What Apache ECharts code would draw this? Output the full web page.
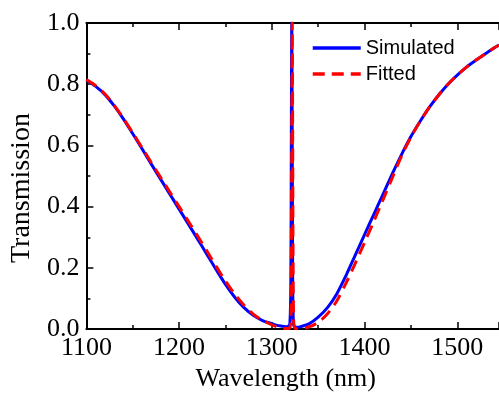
<!DOCTYPE html>
<html>
<head>
<meta charset="utf-8">
<script src="https://cdn.jsdelivr.net/npm/echarts@6/dist/echarts.min.js"></script>
<style>html,body{margin:0;padding:0;background:#fff}#c{width:499px;height:397px}</style>
</head>
<body>
<div id="c"></div>
<script>
// Wavelength samples (nm)
const wavelengths = [1100,1110,1120,1130,1140,1150,1160,1170,1180,1190,1200,1210,1220,1230,1240,1250,1260,1270,1280,1290,1300,1305,1310,1315,1318,1319.5,1320.5,1321,1321.5,1322,1322.5,1323,1323.5,1324,1325,1328,1330,1340,1350,1360,1370,1380,1390,1400,1410,1420,1430,1440,1450,1460,1470,1480,1490,1500,1510,1520,1530,1540,1545];
// Simulated transmission
const simulated = [0.813,0.793,0.766,0.729,0.686,0.638,0.589,0.539,0.490,0.441,0.392,0.343,0.294,0.244,0.194,0.146,0.104,0.070,0.045,0.028,0.018,0.013,0.010,0.008,0.010,0.020,0.150,0.600,1.000,0.600,0.150,0.040,0.015,0.010,0.007,0.006,0.007,0.017,0.039,0.070,0.115,0.175,0.242,0.309,0.375,0.441,0.508,0.571,0.629,0.679,0.725,0.765,0.800,0.830,0.856,0.878,0.899,0.919,0.928];
// Fitted transmission
const fitted = [0.815,0.795,0.768,0.731,0.688,0.641,0.593,0.544,0.496,0.448,0.400,0.352,0.304,0.255,0.205,0.157,0.114,0.078,0.049,0.028,0.014,0.008,0.004,0.002,0.002,0.005,0.030,0.150,0.600,1.000,0.600,0.150,0.030,0.010,0.003,0.001,0.001,0.007,0.022,0.050,0.092,0.150,0.215,0.283,0.352,0.423,0.495,0.566,0.627,0.679,0.725,0.765,0.800,0.830,0.856,0.878,0.899,0.919,0.928];
const xTicks = [1100,1200,1300,1400,1500];
const yTicks = [0.0,0.2,0.4,0.6,0.8,1.0];

const pair = (ys) => wavelengths.map((w, i) => [w, ys[i]]);
const serif = 'Liberation Serif';
const chart = echarts.init(document.getElementById('c'), null, {renderer: 'canvas'});
const axisCommon = {
  type: 'value', min: 1100, max: 1545, interval: 100,
  axisLine: {show: true, lineStyle: {color: '#000', width: 2}},
  axisTick: {show: true, inside: true, length: 7, lineStyle: {color: '#000', width: 1.5}},
  minorTick: {show: true, splitNumber: 2, length: 4, lineStyle: {color: '#000', width: 1.5}},
  splitLine: {show: false}
};
chart.setOption({
  animation: false,
  backgroundColor: '#fff',
  grid: {left: 82, top: 23, width: 419.6, height: 312, containLabel: false},
  legend: {
    orient: 'vertical', left: 306, top: 33, itemWidth: 48, itemHeight: 14, itemGap: 6,
    itemStyle: {opacity: 0},
    lineStyle: {width: 3.5},
    textStyle: {fontFamily: 'Liberation Sans', fontSize: 20, color: '#000'},
    data: ['Simulated', 'Fitted']
  },
  xAxis: [
    Object.assign({}, axisCommon, {
      position: 'bottom',
      name: 'Wavelength (nm)', nameLocation: 'middle', nameGap: 36,
      nameTextStyle: {fontFamily: serif, fontSize: 26, color: '#000', padding: [0, 14, 0, 0]},
      axisLabel: {show: true, margin: 6, fontFamily: serif, fontSize: 26, color: '#000', showMaxLabel: false,
        formatter: v => xTicks.indexOf(v) >= 0 ? String(v) : ''}
    }),
    Object.assign({}, axisCommon, {position: 'top', axisLabel: {show: false}})
  ],
  yAxis: {
    type: 'value', min: 0, max: 1, interval: 0.2,
    name: 'Transmission', nameLocation: 'middle', nameGap: 45, nameRotate: 90,
    nameTextStyle: {fontFamily: serif, fontSize: 28, color: '#000', padding: [0, 24, 0, 0]},
    axisLine: {show: true, lineStyle: {color: '#000', width: 2}},
    axisTick: {show: true, inside: true, length: 7, lineStyle: {color: '#000', width: 1.5}},
    minorTick: {show: true, splitNumber: 2, length: 4, lineStyle: {color: '#000', width: 1.5}},
    splitLine: {show: false},
    axisLabel: {margin: 7, fontFamily: serif, fontSize: 26, color: '#000',
      formatter: v => yTicks.some(t => Math.abs(t - v) < 1e-9) ? v.toFixed(1) : ''}
  },
  series: [
    {name: 'Simulated', type: 'line', xAxisIndex: 0, data: pair(simulated), showSymbol: false, symbol: 'none',
      smooth: 0.3, lineStyle: {color: '#0000ff', width: 3}, itemStyle: {color: '#0000ff'}, clip: true},
    {name: 'Fitted', type: 'line', xAxisIndex: 0, data: pair(fitted), showSymbol: false, symbol: 'none',
      smooth: 0.3, lineStyle: {color: '#ff0000', width: 3, type: [12, 7]}, itemStyle: {color: '#ff0000'}, clip: true}
  ]
});
</script>
</body>
</html>
